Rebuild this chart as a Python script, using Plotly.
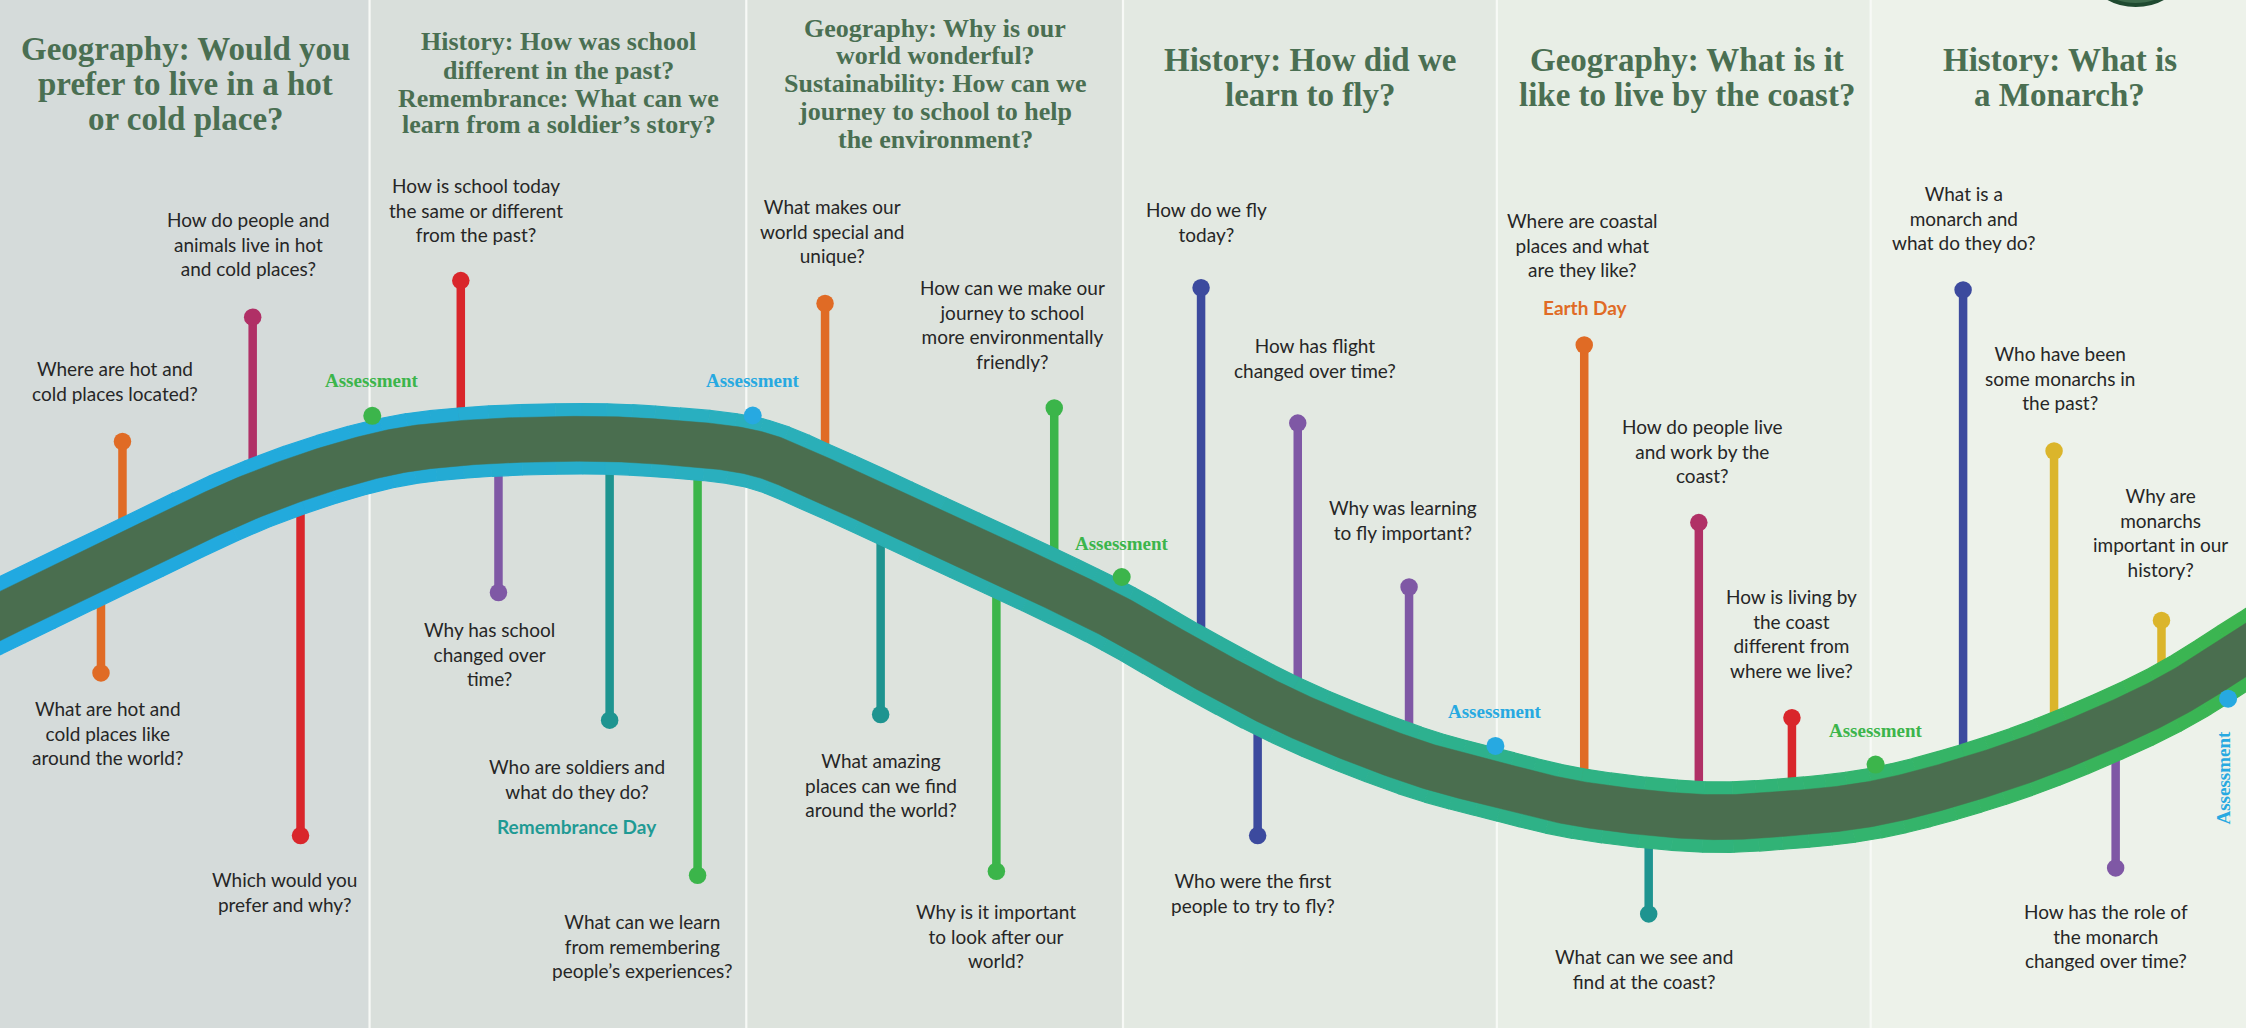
import numpy as np
import plotly.graph_objects as go

# ---------------- data ----------------
W, H = 1568, 718  # drawing coordinate space (scaled by plotly to the page)

panel_edges = [0, 258, 521, 784, 1045, 1306, 1568]
panel_colors = ['#d5dbda', '#d9dfdb', '#dde3dd', '#e3e9e2', '#e8eee6', '#edf2ea']

title_lines = [
    "Geography: Would you", "prefer to live in a hot", "or cold place?",
    "History: How was school", "different in the past?", "Remembrance: What can we",
    "learn from a soldier’s story?",
    "Geography: Why is our", "world wonderful?", "Sustainability: How can we",
    "journey to school to help", "the environment?",
    "History: How did we", "learn to fly?",
    "Geography: What is it", "like to live by the coast?",
    "History: What is", "a Monarch?",
]
title_x = [129.6] * 3 + [390] * 4 + [653] * 5 + [914.4] * 2 + [1178] * 2 + [1438] * 2
title_y = [34, 58.5, 83, 29, 49, 68.6, 87.3, 19.8, 39, 58.6, 78, 97.3, 42, 66.3, 42, 66.3, 42, 66.3]
title_size = [33] * 3 + [26] * 4 + [26] * 5 + [33] * 6

COL = {
    'orange': '#e06b25', 'magenta': '#b03066', 'red': '#d9262b', 'purple': '#7f58a5',
    'teal': '#1e9490', 'green': '#3bb54a', 'navy': '#3c4a9e', 'yellow': '#dbb52b',
}

q_text = [
    "Where are hot and<br>cold places located?",
    "What are hot and<br>cold places like<br>around the world?",
    "How do people and<br>animals live in hot<br>and cold places?",
    "Which would you<br>prefer and why?",
    "How is school today<br>the same or different<br>from the past?",
    "Why has school<br>changed over<br>time?",
    "Who are soldiers and<br>what do they do?",
    "What can we learn<br>from remembering<br>people’s experiences?",
    "What makes our<br>world special and<br>unique?",
    "What amazing<br>places can we find<br>around the world?",
    "How can we make our<br>journey to school<br>more environmentally<br>friendly?",
    "Why is it important<br>to look after our<br>world?",
    "How do we fly<br>today?",
    "Who were the first<br>people to try to fly?",
    "How has flight<br>changed over time?",
    "Why was learning<br>to fly important?",
    "Where are coastal<br>places and what<br>are they like?",
    "How do people live<br>and work by the<br>coast?",
    "What can we see and<br>find at the coast?",
    "How is living by<br>the coast<br>different from<br>where we live?",
    "What is a<br>monarch and<br>what do they do?",
    "Who have been<br>some monarchs in<br>the past?",
    "How has the role of<br>the monarch<br>changed over time?",
    "Why are<br>monarchs<br>important in our<br>history?",
]
q_color = ['orange', 'orange', 'magenta', 'red', 'red', 'purple', 'teal', 'green',
           'orange', 'teal', 'green', 'green', 'navy', 'navy', 'purple', 'purple',
           'orange', 'magenta', 'teal', 'red', 'navy', 'yellow', 'purple', 'yellow']
q_x = [85.5, 70.5, 176.4, 209.8, 321.7, 348, 425.6, 487, 576, 614.8, 736, 695.6,
       838.5, 878, 906, 983.7, 1106, 1186, 1151, 1251, 1370.5, 1434, 1477, 1509]
q_dot_y = [308.4, 470, 221.5, 583.6, 196, 413.8, 503, 611.3, 212, 499, 285, 608.5,
           201, 583.6, 295.5, 410, 241, 365, 638.3, 501.3, 202.5, 315, 606.2, 433.3]
q_label_x = [80, 75, 173.7, 198.7, 332, 342, 402.5, 448.6, 581, 615, 707, 695.5,
             842.6, 874.8, 918, 979.6, 1105, 1188.4, 1147.4, 1251, 1371, 1438, 1470, 1508]
q_label_y = [266, 512, 170.5, 623, 147, 456.5, 544, 661, 161, 548.5, 226.6, 654,
             155, 623.4, 250, 363.5, 171.4, 315, 676.6, 442.3, 152.5, 264, 654, 372]

event_text = ["Remembrance Day", "Earth Day"]
event_color = ['#1f9a94', '#e06b25']
event_x = [402.5, 1107]
event_y = [577, 215]

assess_x = [259.9, 525.5, 783.1, 1044, 1309.4, 1555.5]
assess_y = [290.4, 290.2, 403, 521, 534, 488]
assess_color = ['#3cb54b', '#27a9e1', '#3cb54b', '#27a9e1', '#3cb54b', '#27a9e1']
assess_label_y = [266, 266, 379.3, 497, 510, 543]

# ribbon centre line (drawing coordinates)
rib_x = [-40, 0, 85, 177, 259, 322, 400, 460, 525, 576, 650, 736, 784, 839, 906, 984,
         1045, 1106, 1187, 1251, 1309, 1370, 1434, 1509, 1568, 1610]
rib_y = [450, 430, 389, 346, 319, 309.5, 306.5, 308.5, 316, 336, 370, 410, 434,
         465.5, 500, 531, 548, 562, 570.5, 568, 561, 545.5, 523.5, 490, 454, 427]
rib_stops_x = [0, 250, 500, 780, 1190, 1400, 1568]
rib_stops_c = ['#21a9e1', '#22aadb', '#2aafbe', '#2aaea3', '#30b37c', '#36b462', '#3cb54f']
RIB_OUT, RIB_IN = 24.6, 15.7

# ---------------- helpers ----------------
def catmull(px, py, n=30):
    P = np.column_stack([px, py]).astype(float)
    P = np.vstack([P[0], P, P[-1]])
    out = []
    t = np.linspace(0, 1, n, endpoint=False)[:, None]
    for i in range(1, len(P) - 2):
        p0, p1, p2, p3 = P[i - 1], P[i], P[i + 1], P[i + 2]
        pts = 0.5 * ((2 * p1) + (-p0 + p2) * t + (2 * p0 - 5 * p1 + 4 * p2 - p3) * t ** 2
                     + (-p0 + 3 * p1 - 3 * p2 + p3) * t ** 3)
        out.append(pts)
    out.append(P[-2][None, :])
    return np.vstack(out)


def hex2rgb(h):
    h = h.lstrip('#')
    return np.array([int(h[i:i + 2], 16) for i in (0, 2, 4)], float)


def grad_color(x):
    xs = rib_stops_x
    cs = [hex2rgb(c) for c in rib_stops_c]
    r = [np.interp(x, xs, [c[k] for c in cs]) for k in range(3)]
    return 'rgb(%d,%d,%d)' % tuple(int(round(v)) for v in r)


C = catmull(rib_x, rib_y)
cx, cy = C[:, 0], C[:, 1]
tx, ty = np.gradient(cx), np.gradient(cy)
ln = np.hypot(tx, ty)
nx, ny = -ty / ln, tx / ln

fig = go.Figure()

# stems (behind the ribbon)
for x, yd, c in zip(q_x, q_dot_y, q_color):
    y_end = float(np.interp(x, cx, cy))
    fig.add_trace(go.Scatter(x=[x, x], y=[yd, y_end], mode='lines',
                             line=dict(color=COL[c], width=8.5),
                             hoverinfo='skip', showlegend=False))

# ribbon border with gradient
ox1, oy1 = cx + nx * RIB_OUT, cy + ny * RIB_OUT
ox2, oy2 = cx - nx * RIB_OUT, cy - ny * RIB_OUT
K = 90
idx = np.linspace(0, len(cx) - 1, K + 1).astype(int)
for a, b in zip(idx[:-1], idx[1:]):
    px = np.concatenate([ox1[a:b + 1], ox2[a:b + 1][::-1]])
    py = np.concatenate([oy1[a:b + 1], oy2[a:b + 1][::-1]])
    col = grad_color(cx[(a + b) // 2])
    fig.add_trace(go.Scatter(x=px, y=py, mode='lines', fill='toself', fillcolor=col,
                             line=dict(color=col, width=1.2),
                             hoverinfo='skip', showlegend=False))

# ribbon dark band
ix1, iy1 = cx + nx * RIB_IN, cy + ny * RIB_IN
ix2, iy2 = cx - nx * RIB_IN, cy - ny * RIB_IN
fig.add_trace(go.Scatter(x=np.concatenate([ix1, ix2[::-1]]),
                         y=np.concatenate([iy1, iy2[::-1]]),
                         mode='lines', fill='toself', fillcolor='#4a6e4f',
                         line=dict(color='#4a6e4f', width=0.5),
                         hoverinfo='skip', showlegend=False))

# question dots
fig.add_trace(go.Scatter(x=q_x, y=q_dot_y, mode='markers',
                         marker=dict(size=17.5, color=[COL[c] for c in q_color]),
                         hoverinfo='skip', showlegend=False))
# assessment dots
fig.add_trace(go.Scatter(x=assess_x, y=assess_y, mode='markers',
                         marker=dict(size=18, color=assess_color),
                         hoverinfo='skip', showlegend=False))

shapes = []
for i, col in enumerate(panel_colors):
    shapes.append(dict(type='rect', xref='x', yref='y', x0=panel_edges[i], x1=panel_edges[i + 1],
                       y0=0, y1=H, fillcolor=col, line=dict(width=0), layer='below'))
for e in panel_edges[1:-1]:
    shapes.append(dict(type='line', xref='x', yref='y', x0=e, x1=e, y0=0, y1=H,
                       line=dict(color='#f7f9f6', width=2.2), layer='below'))
# badge at the top edge
shapes.append(dict(type='circle', xref='x', yref='y', x0=1459, x1=1523, y0=-45, y1=3.5,
                   fillcolor='#3d6b4c', line=dict(color='#1f4a30', width=4), layer='above'))

ann = []
for t, x, y, s in zip(title_lines, title_x, title_y, title_size):
    ann.append(dict(x=x, y=y, xref='x', yref='y', text='<b>%s</b>' % t, showarrow=False,
                    xanchor='center', yanchor='middle',
                    font=dict(family='Liberation Serif', size=s, color='#4a6f52')))
for t, x, y in zip(q_text, q_label_x, q_label_y):
    ann.append(dict(x=x, y=y, xref='x', yref='y', text=t, showarrow=False, align='center',
                    xanchor='center', yanchor='middle',
                    font=dict(family='Lato', size=19, color='#262626')))
for t, c, x, y in zip(event_text, event_color, event_x, event_y):
    ann.append(dict(x=x, y=y, xref='x', yref='y', text='<b>%s</b>' % t, showarrow=False,
                    xanchor='center', yanchor='middle',
                    font=dict(family='Lato', size=19, color=c)))
for i, (x, y, c) in enumerate(zip(assess_x, assess_label_y, assess_color)):
    if i == len(assess_x) - 1:
        ann.append(dict(x=x - 3.5, y=y, xref='x', yref='y', text='<b>Assessment</b>',
                        showarrow=False, textangle=-90, xanchor='center', yanchor='middle',
                        font=dict(family='Liberation Serif', size=19, color=c)))
    else:
        ann.append(dict(x=x, y=y, xref='x', yref='y', text='<b>Assessment</b>',
                        showarrow=False, xanchor='center', yanchor='middle',
                        font=dict(family='Liberation Serif', size=19, color=c)))

fig.update_layout(
    width=2246, height=1028, margin=dict(l=0, r=0, t=0, b=0, pad=0),
    paper_bgcolor='#dde3dd', plot_bgcolor='rgba(0,0,0,0)',
    xaxis=dict(range=[0, W], visible=False, fixedrange=True),
    yaxis=dict(range=[H, 0], visible=False, fixedrange=True),
    shapes=shapes, annotations=ann, showlegend=False,
)

fig.write_html("out.html", config={'displayModeBar': False},
               post_script="document.body.style.margin='0';document.body.style.overflow='hidden';")
